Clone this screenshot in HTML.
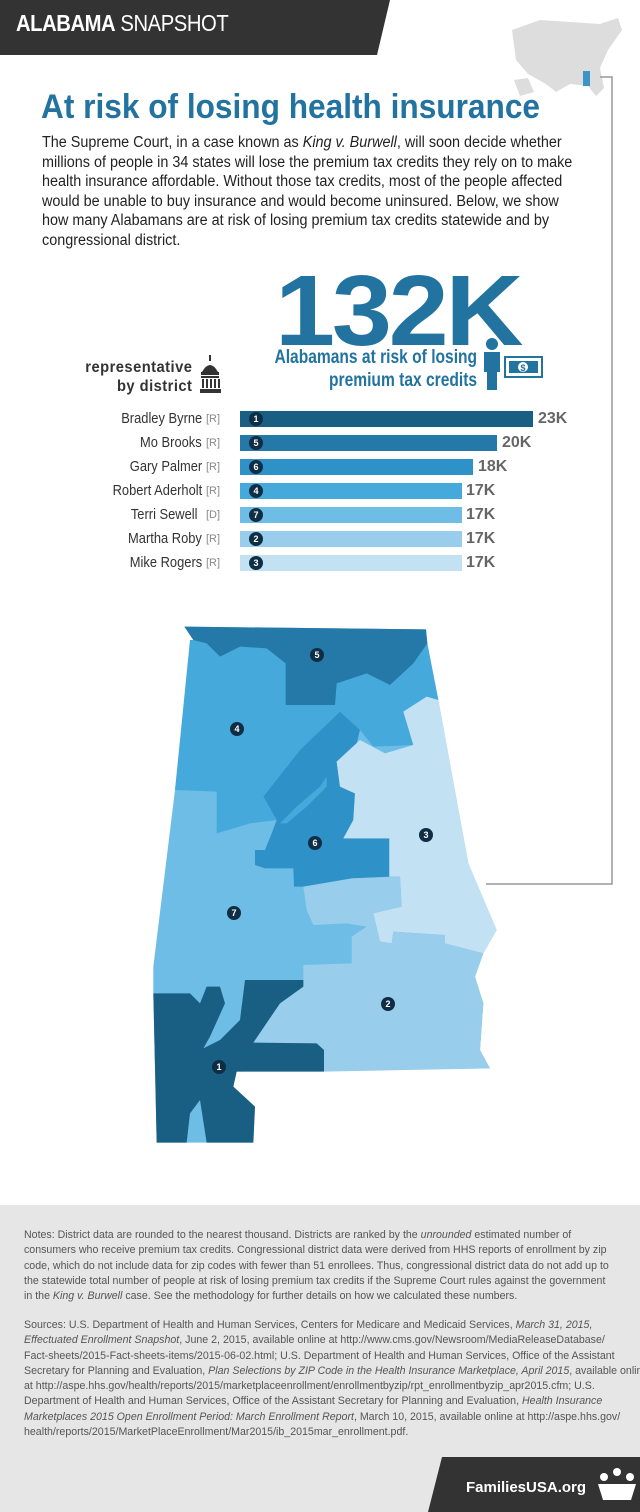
<!DOCTYPE html>
<html><head><meta charset="utf-8">
<style>
*{margin:0;padding:0;box-sizing:border-box}
body{width:640px;height:1512px;position:relative;background:#fff;font-family:"Liberation Sans",sans-serif;color:#333;overflow:hidden}
.a{position:absolute}
.sx{transform-origin:0 0;white-space:nowrap}
.name{position:absolute;right:438px;font-size:15px;color:#333;white-space:nowrap;line-height:18px;transform:scaleX(0.86);transform-origin:100% 50%}
.tag{position:absolute;left:206px;font-size:11px;color:#888;line-height:18px}
.val{position:absolute;font-size:16px;font-weight:bold;color:#666;line-height:18px}
.foot{font-size:11.3px;line-height:15.3px;color:#555;white-space:nowrap;transform:scaleX(0.94);transform-origin:0 0}
</style></head><body>
<svg class="a" style="left:0;top:0" width="640" height="1512" viewBox="0 0 640 1512">
<polygon points="0,0 390,0 377,55 0,55" fill="#333"/>
<path d="M512,30 L540,20 L600,24 L618,18 L622,30 L608,50 L600,68 L604,88 L596,96 L588,86 L570,84 L556,92 L546,84 L528,74 L516,60 Z" fill="#ddd"/>
<path d="M514,80 L528,78 L534,92 L520,96 Z" fill="#ddd"/>
<rect x="583" y="71" width="7" height="15" fill="#3d94c6"/>
<polyline points="600,77 612,77 612,884 486,884" fill="none" stroke="#999" stroke-width="1.5"/>
<g fill="#333">
<rect x="209" y="355" width="2" height="6"/>
<path d="M202,372 Q210,358 218,372 Z"/>
<rect x="201" y="372" width="18" height="3"/>
<rect x="201" y="376" width="18" height="2"/>
<rect x="202" y="379" width="2" height="9"/><rect x="206" y="379" width="2" height="9"/><rect x="210" y="379" width="2" height="9"/><rect x="214" y="379" width="2" height="9"/><rect x="218" y="379" width="2" height="9"/>
<rect x="200" y="389" width="21" height="4"/>
</g>
<g fill="#2273a0">
<circle cx="492" cy="344" r="6"/>
<path d="M484,352 h16 v20 h-3 v18 h-10 v-18 h-3 z"/>
<rect x="505" y="357" width="37" height="20" fill="none" stroke="#2273a0" stroke-width="2"/>
<rect x="509" y="361" width="29" height="12"/>
<circle cx="523" cy="367" r="5" fill="#fff"/>
</g>
<text x="523" y="371" font-size="9" font-weight="bold" fill="#2273a0" text-anchor="middle" font-family="Liberation Sans">$</text>
<rect x="240" y="411" width="293" height="16" fill="#185f83"/>
<rect x="240" y="435" width="257" height="16" fill="#2479a8"/>
<rect x="240" y="459" width="233" height="16" fill="#2e92c8"/>
<rect x="240" y="483" width="222" height="16" fill="#45a9dc"/>
<rect x="240" y="507" width="222" height="16" fill="#6dbde6"/>
<rect x="240" y="531" width="222" height="16" fill="#98cdec"/>
<rect x="240" y="555" width="222" height="16" fill="#c2e2f4"/>
<g fill="#0f2d45">
<circle cx="256" cy="419" r="7"/><circle cx="256" cy="443" r="7"/><circle cx="256" cy="467" r="7"/><circle cx="256" cy="491" r="7"/><circle cx="256" cy="515" r="7"/><circle cx="256" cy="539" r="7"/><circle cx="256" cy="563" r="7"/>
</g>
<g fill="#fff" font-size="9" font-weight="bold" text-anchor="middle" font-family="Liberation Sans">
<text x="256" y="422">1</text><text x="256" y="446">5</text><text x="256" y="470">6</text><text x="256" y="494">4</text><text x="256" y="518">7</text><text x="256" y="542">2</text><text x="256" y="566">3</text>
</g>
<g transform="translate(140,620) scale(0.33333)">
<polygon fill="#6dbde6" points="133,20 858,28 862,70 895,240 985,730 1040,860 1070,930 1030,1000 1005,1070 1030,1150 1020,1290 1050,1345 290,1355 280,1400 345,1460 340,1568 50,1568 40,1120 40,1040 105,510 160,60"/>
<polygon fill="#45a9dc" points="150,60 860,60 895,240 790,275 820,375 700,380 660,330 600,275 480,390 370,530 410,600 330,610 230,640 230,515 105,510"/>
<polygon fill="#2479a8" points="133,20 858,28 862,70 820,130 750,195 680,160 590,190 585,255 437,255 437,130 380,85 300,80 240,110 200,70 160,60"/>
<polygon fill="#2e92c8" points="600,275 660,330 640,410 590,425 600,500 645,520 640,600 610,655 748,655 748,770 635,775 545,800 462,800 460,745 375,745 345,735 345,690 375,690 395,640 410,600 370,530 480,390"/>
<polygon fill="#45a9dc" points="560,470 540,500 470,560 420,610 440,610 500,560 560,500"/>
<polygon fill="#c2e2f4" points="860,230 895,240 985,730 1040,860 1070,930 1030,1000 915,970 915,945 760,935 755,970 720,965 700,880 785,860 780,770 748,770 748,655 610,655 640,600 645,520 600,500 590,425 660,360 735,400 820,375 790,275"/>
<polygon fill="#98cdec" points="490,800 635,775 780,770 785,860 700,880 720,965 755,970 760,935 915,945 915,970 1030,1000 1005,1070 1030,1150 1020,1290 1050,1345 552,1355 552,1290 530,1270 340,1268 420,1150 490,1100 490,1035 635,1030 635,950 680,920 620,910 520,915 500,870"/>
<polygon fill="#185f83" points="40,1120 150,1120 180,1150 200,1100 240,1100 255,1150 210,1250 190,1285 240,1260 300,1200 315,1080 490,1080 490,1100 420,1150 340,1268 530,1270 552,1290 552,1355 290,1355 280,1400 345,1460 340,1568 200,1568 180,1440 150,1480 140,1568 50,1568"/>
</g>
<g fill="#0f2d45">
<circle cx="317" cy="655" r="7"/><circle cx="237" cy="729" r="7"/><circle cx="315" cy="843" r="7"/><circle cx="426" cy="835" r="7"/><circle cx="234" cy="913" r="7"/><circle cx="388" cy="1004" r="7"/><circle cx="219" cy="1067" r="7"/>
</g>
<g fill="#fff" font-size="9" font-weight="bold" text-anchor="middle" font-family="Liberation Sans">
<text x="317" y="658">5</text><text x="237" y="732">4</text><text x="315" y="846">6</text><text x="426" y="838">3</text><text x="234" y="916">7</text><text x="388" y="1007">2</text><text x="219" y="1070">1</text>
</g>
<rect x="0" y="1205" width="640" height="307" fill="#e6e6e6"/>
<polygon points="442,1457 640,1457 640,1512 428,1512" fill="#333"/>
<g fill="#fff"><circle cx="617" cy="1472" r="4"/><circle cx="604" cy="1477" r="4"/><circle cx="630" cy="1477" r="4"/><path d="M598,1484 h38 l-5,16 h-28 z"/></g>
</svg>

<div class="a sx" style="left:16px;top:10px;font-size:23px;color:#fff;letter-spacing:-0.5px;transform:scaleX(0.88)"><b>ALABAMA</b> SNAPSHOT</div>
<div class="a sx" style="left:41px;top:88px;font-size:34px;font-weight:bold;color:#2273a0;transform:scaleX(0.93)">At risk of losing health insurance</div>
<div class="a sx" style="left:42px;top:133px;font-size:15.4px;line-height:19.5px;color:#222;transform:scaleX(0.935)">The Supreme Court, in a case known as <i>King v. Burwell</i>, will soon decide whether<br>millions of people in 34 states will lose the premium tax credits they rely on to make<br>health insurance affordable. Without those tax credits, most of the people affected<br>would be unable to buy insurance and would become uninsured. Below, we show<br>how many Alabamans are at risk of losing premium tax credits statewide and by<br>congressional district.</div>
<div class="a sx" style="left:275px;top:256px;font-size:100px;font-weight:bold;color:#2273a0;letter-spacing:-3px;line-height:110px;transform:scaleX(1.08)">132K</div>
<div class="a" style="right:163px;top:346px;text-align:right;font-size:19px;font-weight:bold;color:#2273a0;line-height:23px;white-space:nowrap;transform:scaleX(0.82);transform-origin:100% 0">Alabamans at risk of losing<br>premium tax credits</div>
<div class="a" style="right:448px;top:358px;text-align:right;font-size:16px;font-weight:bold;color:#333;line-height:19px;letter-spacing:0.5px;white-space:nowrap;transform:scaleX(0.92);transform-origin:100% 0">representative<br>by district</div>

<div class="name" style="top:410px">Bradley Byrne</div><div class="tag" style="top:410px">[R]</div><div class="val" style="left:538px;top:410px">23K</div>
<div class="name" style="top:434px">Mo Brooks</div><div class="tag" style="top:434px">[R]</div><div class="val" style="left:502px;top:434px">20K</div>
<div class="name" style="top:458px">Gary Palmer</div><div class="tag" style="top:458px">[R]</div><div class="val" style="left:478px;top:458px">18K</div>
<div class="name" style="top:482px">Robert Aderholt</div><div class="tag" style="top:482px">[R]</div><div class="val" style="left:466px;top:482px">17K</div>
<div class="name" style="top:506px;right:442px">Terri Sewell</div><div class="tag" style="top:506px">[D]</div><div class="val" style="left:466px;top:506px">17K</div>
<div class="name" style="top:530px">Martha Roby</div><div class="tag" style="top:530px">[R]</div><div class="val" style="left:466px;top:530px">17K</div>
<div class="name" style="top:554px">Mike Rogers</div><div class="tag" style="top:554px">[R]</div><div class="val" style="left:466px;top:554px">17K</div>

<div class="a foot" style="left:24px;top:1228px">Notes: District data are rounded to the nearest thousand. Districts are ranked by the <i>unrounded</i> estimated number of<br>consumers who receive premium tax credits. Congressional district data were derived from HHS reports of enrollment by zip<br>code, which do not include data for zip codes with fewer than 51 enrollees. Thus, congressional district data do not add up to<br>the statewide total number of people at risk of losing premium tax credits if the Supreme Court rules against the government<br>in the <i>King v. Burwell</i> case. See the methodology for further details on how we calculated these numbers.</div>
<div class="a foot" style="left:24px;top:1318px">Sources: U.S. Department of Health and Human Services, Centers for Medicare and Medicaid Services, <i>March 31, 2015,</i><br><i>Effectuated Enrollment Snapshot</i>, June 2, 2015, available online at http://www.cms.gov/Newsroom/MediaReleaseDatabase/<br>Fact-sheets/2015-Fact-sheets-items/2015-06-02.html; U.S. Department of Health and Human Services, Office of the Assistant<br>Secretary for Planning and Evaluation, <i>Plan Selections by ZIP Code in the Health Insurance Marketplace, April 2015</i>, available online<br>at http://aspe.hhs.gov/health/reports/2015/marketplaceenrollment/enrollmentbyzip/rpt_enrollmentbyzip_apr2015.cfm; U.S.<br>Department of Health and Human Services, Office of the Assistant Secretary for Planning and Evaluation, <i>Health Insurance</i><br><i>Marketplaces 2015 Open Enrollment Period: March Enrollment Report</i>, March 10, 2015, available online at http://aspe.hhs.gov/<br>health/reports/2015/MarketPlaceEnrollment/Mar2015/ib_2015mar_enrollment.pdf.</div>
<div class="a" style="left:466px;top:1479px;font-size:15px;font-weight:bold;color:#fff">FamiliesUSA.org</div>
</body></html>
